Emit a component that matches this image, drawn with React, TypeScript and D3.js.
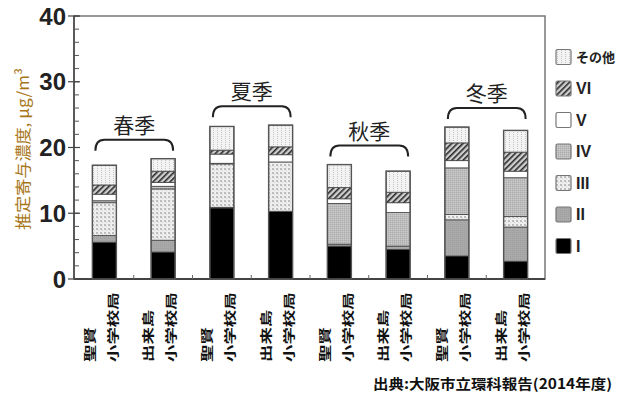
import React from "react";
import * as d3 from "d3";

const categories = ["春-聖賢", "春-出来島", "夏-聖賢", "夏-出来島", "秋-聖賢", "秋-出来島", "冬-聖賢", "冬-出来島"];
const siteNames = ["聖賢", "出来島", "聖賢", "出来島", "聖賢", "出来島", "聖賢", "出来島"];
const siteSuffix = "小学校局";
const seasonLabels = ["春季", "夏季", "秋季", "冬季"];
const yTicks = [0, 10, 20, 30, 40];
const keys = ["I", "II", "III", "IV", "V", "VI", "その他"];

const seriesI = [5.6, 4.1, 10.8, 10.3, 5.0, 4.5, 3.5, 2.7];
const seriesII = [1.0, 1.8, 0.1, 0.0, 0.3, 0.5, 5.5, 5.2];
const seriesIII = [5.0, 7.8, 6.6, 7.5, 0.0, 0.0, 0.8, 1.6];
const seriesIV = [0.3, 0.4, 0.1, 0.0, 6.2, 5.1, 7.1, 5.9];
const seriesV = [1.0, 0.6, 1.4, 1.1, 0.7, 1.5, 1.1, 1.0];
const seriesVI = [1.4, 1.7, 0.6, 1.2, 1.7, 1.6, 2.7, 2.9];
const seriesOther = [3.0, 1.9, 3.6, 3.3, 3.5, 3.2, 2.4, 3.3];

const yTitle = "推定寄与濃度, μg/m³";
const source = "出典:大阪市立環科報告(2014年度)";

const fills: Record<string, string> = {
  I: "#000000",
  II: "url(#pII)",
  III: "url(#pIII)",
  IV: "url(#pIV)",
  V: "#ffffff",
  VI: "url(#pVI)",
  "その他": "url(#pOther)",
};

export default function App() {
  const W = 630, H = 394;
  const left = 75, right = 545, top = 16, bottom = 279;
  const x = d3.scaleBand<string>().domain(categories).range([left, right]).padding(0);
  const y = d3.scaleLinear().domain([0, 40]).range([bottom, top]);
  const barW = 24;

  const rows = categories.map((c, i) => ({
    cat: c,
    I: seriesI[i], II: seriesII[i], III: seriesIII[i], IV: seriesIV[i],
    V: seriesV[i], VI: seriesVI[i], "その他": seriesOther[i],
  }));
  const stacked = d3.stack<any>().keys(keys)(rows);
  const totals = rows.map((r) => keys.reduce((s, k) => s + (r as any)[k], 0));
  const cx = (c: string) => (x(c) as number) + x.bandwidth() / 2;

  const minor = d3.range(0, 41, 2);
  const legendKeys = [...keys].reverse();
  const cjk = "'Noto Sans CJK JP', 'Liberation Sans', sans-serif";

  return (
    <svg width={W} height={H} style={{ position: "absolute", left: 0, top: 0, background: "#fff" }}>
      <defs>
        <pattern id="pOther" width="4" height="2" patternUnits="userSpaceOnUse">
          <rect width="4" height="2" fill="#f3f3f3" />
          <rect x="1" y="0" width="1" height="1" fill="#c4c4c4" />
        </pattern>
        <pattern id="pVI" width="4" height="4" patternUnits="userSpaceOnUse" patternTransform="rotate(45)">
          <rect width="4" height="4" fill="#cfcfcf" />
          <rect x="0" y="0" width="1.6" height="4" fill="#2a2a2a" />
        </pattern>
        <pattern id="pIV" width="2" height="2" patternUnits="userSpaceOnUse">
          <rect width="2" height="2" fill="#bdbdbd" />
          <rect x="0" y="0" width="1" height="1" fill="#adadad" />
          <rect x="1" y="1" width="1" height="1" fill="#c9c9c9" />
        </pattern>
        <pattern id="pIII" width="4" height="4" patternUnits="userSpaceOnUse">
          <rect width="4" height="4" fill="#efefef" />
          <rect x="0" y="0" width="2" height="2" fill="#bcbcbc" />
          <rect x="2" y="2" width="1" height="1" fill="#d0d0d0" />
        </pattern>
        <pattern id="pII" width="2" height="2" patternUnits="userSpaceOnUse">
          <rect width="2" height="2" fill="#a9a9a9" />
          <rect x="0" y="0" width="1" height="1" fill="#9f9f9f" />
        </pattern>
      </defs>

      {/* frame */}
      <rect x={left - 1} y={top} width={right - left + 1} height={bottom - top} fill="none" stroke="#777" strokeWidth={1.5} />
      <line x1={left - 1} x2={left - 1} y1={top} y2={bottom} stroke="#444" strokeWidth={1.5} />
      <line x1={left - 1} x2={right} y1={bottom} y2={bottom} stroke="#444" strokeWidth={2} />

      {/* y ticks */}
      {minor.map((t) => (
        <line key={"m" + t} x1={left - 1} x2={left + 4} y1={y(t)} y2={y(t)} stroke="#555" strokeWidth={1} />
      ))}
      {yTicks.map((t) => (
        <g key={"t" + t}>
          <line x1={left - 7} x2={left + 5} y1={y(t)} y2={y(t)} stroke="#444" strokeWidth={1.2} />
          <text x={left - 9} y={y(t)} dy="0.36em" textAnchor="end" fontSize={24} fontWeight="bold"
            fontFamily="'Liberation Sans Narrow', 'Liberation Sans', Arial, sans-serif" fill="#222">{t}</text>
        </g>
      ))}

      {/* x ticks at band boundaries */}
      {categories.slice(1).map((c) => (
        <line key={"xt" + c} x1={x(c)} x2={x(c)} y1={bottom} y2={bottom - 4} stroke="#666" strokeWidth={1} />
      ))}

      {/* y title */}
      <text transform={`translate(29, 230) rotate(-90)`} fontSize={16} fontFamily={cjk} fill="#a8761a"
        textLength={162} lengthAdjust="spacingAndGlyphs">{yTitle}</text>

      {/* bars */}
      {stacked.map((s) => (
        <g key={s.key}>
          {s.map((d: any, i: number) => {
            const h = y(d[0]) - y(d[1]);
            if (h <= 0) return null;
            return (
              <rect key={i} x={cx(categories[i]) - barW / 2} y={y(d[1])} width={barW} height={h}
                fill={fills[s.key]} stroke="#444" strokeWidth={0.8} />
            );
          })}
        </g>
      ))}
      {categories.map((c, i) => (
        <rect key={"o" + c} x={cx(c) - barW / 2} y={y(totals[i])} width={barW} height={bottom - y(totals[i])}
          fill="none" stroke="#555" strokeWidth={1.4} />
      ))}

      {/* season brackets */}
      {seasonLabels.map((s, k) => {
        const c1 = categories[2 * k], c2 = categories[2 * k + 1];
        const x1 = cx(c1) - 9, x2 = cx(c2) + 10;
        const yt = y(Math.max(totals[2 * k], totals[2 * k + 1])) - 19;
        const r = 9, hh = 11;
        const d = `M${x1},${yt + hh} Q${x1},${yt} ${x1 + r},${yt} L${x2 - r},${yt} Q${x2},${yt} ${x2},${yt + hh}`;
        return (
          <g key={s}>
            <path d={d} fill="none" stroke="#222" strokeWidth={2} />
            <text x={(x1 + x2) / 2} y={yt - 7} textAnchor="middle" fontSize={21} fontFamily={cjk} fill="#222">{s}</text>
          </g>
        );
      })}

      {/* x labels */}
      {categories.map((c, i) => (
        <g key={"xl" + c} fontFamily={cjk} fontSize={12} fill="#111" fontWeight="bold">
          <text transform={`translate(${cx(c) - 15}, 362) rotate(-90) scale(1.45,1)`} dominantBaseline="central">{siteNames[i]}</text>
          <text transform={`translate(${cx(c) + 8}, 362) rotate(-90) scale(1.45,1)`} dominantBaseline="central">{siteSuffix}</text>
        </g>
      ))}

      {/* legend */}
      {legendKeys.map((k, j) => {
        const yc = 57 + j * 31.5;
        return (
          <g key={"lg" + k}>
            <rect x={556} y={yc - 7.5} width={15} height={15} fill={fills[k]} stroke="#777" strokeWidth={1.2} rx={1.5} />
            <text x={576} y={yc} dy="0.36em" fontSize={k === "その他" ? 13 : 16} fontWeight="bold"
              fontFamily={k === "その他" ? cjk : "'Liberation Sans', Arial, sans-serif"} fill="#222">{k}</text>
          </g>
        );
      })}

      {/* source */}
      <text x={373} y={389} fontSize={14} fontWeight="bold" fontFamily={cjk} fill="#111"
        textLength={239} lengthAdjust="spacingAndGlyphs">{source}</text>
    </svg>
  );
}
